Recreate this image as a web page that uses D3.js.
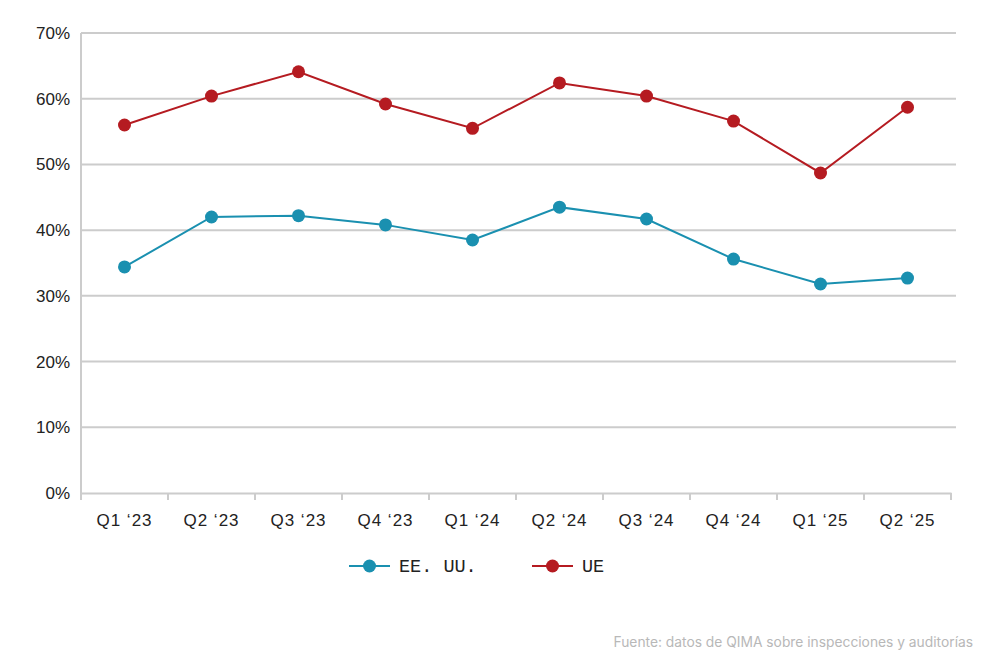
<!DOCTYPE html>
<html><head><meta charset="utf-8">
<script src="https://cdn.jsdelivr.net/npm/d3@7"></script>
<style>
body{margin:0;background:#fff;}
svg text{font-family:"Liberation Sans",Arial,sans-serif;}
</style></head>
<body><svg id="c" width="1000" height="667"></svg>
<script>
const categories = ["Q1 \u201823","Q2 \u201823","Q3 \u201823","Q4 \u201823","Q1 \u201824","Q2 \u201824","Q3 \u201824","Q4 \u201824","Q1 \u201825","Q2 \u201825"];
const usValues = [34.4, 42.0, 42.2, 40.8, 38.5, 43.5, 41.7, 35.6, 31.8, 32.7];
const euValues = [56.0, 60.4, 64.1, 59.2, 55.5, 62.4, 60.4, 56.6, 48.7, 58.7];
const yTicks = [0,10,20,30,40,50,60,70];
const seriesNames = ["EE. UU.","UE"];
const colors = ["#1a90b0","#b51b21"];

(function(){
const svg = d3.select("#c");
const mLeft = 81, mRight = 951, mTop = 33, mBottom = 493;
const x = d3.scaleBand().domain(categories).range([mLeft, mRight]);
const y = d3.scaleLinear().domain([0,70]).range([mBottom, mTop]);

svg.append("g").selectAll("line").data(yTicks.filter(d=>d>0)).join("line")
  .attr("x1", mLeft).attr("x2", 956).attr("y1", d=>y(d)).attr("y2", d=>y(d))
  .attr("stroke", "#cccccc").attr("stroke-width", 2);

svg.append("g").selectAll("text").data(yTicks).join("text")
  .attr("x", 70).attr("y", d=>y(d)).attr("dy","0.35em").attr("text-anchor","end")
  .attr("font-size", 17).attr("fill","#222").text(d=>d+"%");

svg.append("line").attr("x1",mLeft).attr("x2",mLeft).attr("y1",mTop).attr("y2",mBottom)
  .attr("stroke","#cccccc").attr("stroke-width",2);

const xAxis = svg.append("g").attr("transform",`translate(0,${mBottom})`)
  .call(d3.axisBottom(x).tickSize(0).tickPadding(21));
xAxis.select(".domain").attr("stroke","#cccccc").attr("stroke-width",2);
xAxis.selectAll("text").attr("font-size",17).attr("fill","#222")
  .attr("letter-spacing","1px")
  .attr("font-family",'"Liberation Sans",Arial,sans-serif');
const bounds = categories.map(c=>x(c)).concat([mRight]);
svg.append("g").selectAll("line").data(bounds).join("line")
  .attr("x1",d=>d).attr("x2",d=>d).attr("y1",mBottom).attr("y2",mBottom+7)
  .attr("stroke","#cccccc").attr("stroke-width",2);

const series = [usValues, euValues];
const line = d3.line().x((d,i)=>x(categories[i])+x.bandwidth()/2).y(d=>y(d));
series.forEach((vals,si)=>{
  const g = svg.append("g");
  g.append("path").datum(vals).attr("d",line).attr("fill","none")
    .attr("stroke",colors[si]).attr("stroke-width",2);
  g.selectAll("circle").data(vals).join("circle")
    .attr("cx",(d,i)=>x(categories[i])+x.bandwidth()/2).attr("cy",d=>y(d))
    .attr("r",6.5).attr("fill",colors[si]);
});

const legX = [349, 532];
seriesNames.forEach((n,i)=>{
  const g = svg.append("g").attr("transform",`translate(${legX[i]},566)`);
  g.append("line").attr("x1",0).attr("x2",41).attr("stroke",colors[i]).attr("stroke-width",2);
  g.append("circle").attr("cx",20.5).attr("r",6.5).attr("fill",colors[i]);
  g.append("text").attr("x",50).attr("dy","0.35em").attr("font-size",18.5).attr("fill","#222")
    .style("font-family",'"Liberation Mono","DejaVu Sans Mono",monospace').text(n);
});

svg.append("text").attr("x",973).attr("y",647).attr("text-anchor","end")
  .attr("font-size",13.8).attr("fill","#b8b8b8").style("font-family","Inter, 'Noto Sans', sans-serif")
  .text("Fuente: datos de QIMA sobre inspecciones y auditorías");
})();
</script></body></html>
